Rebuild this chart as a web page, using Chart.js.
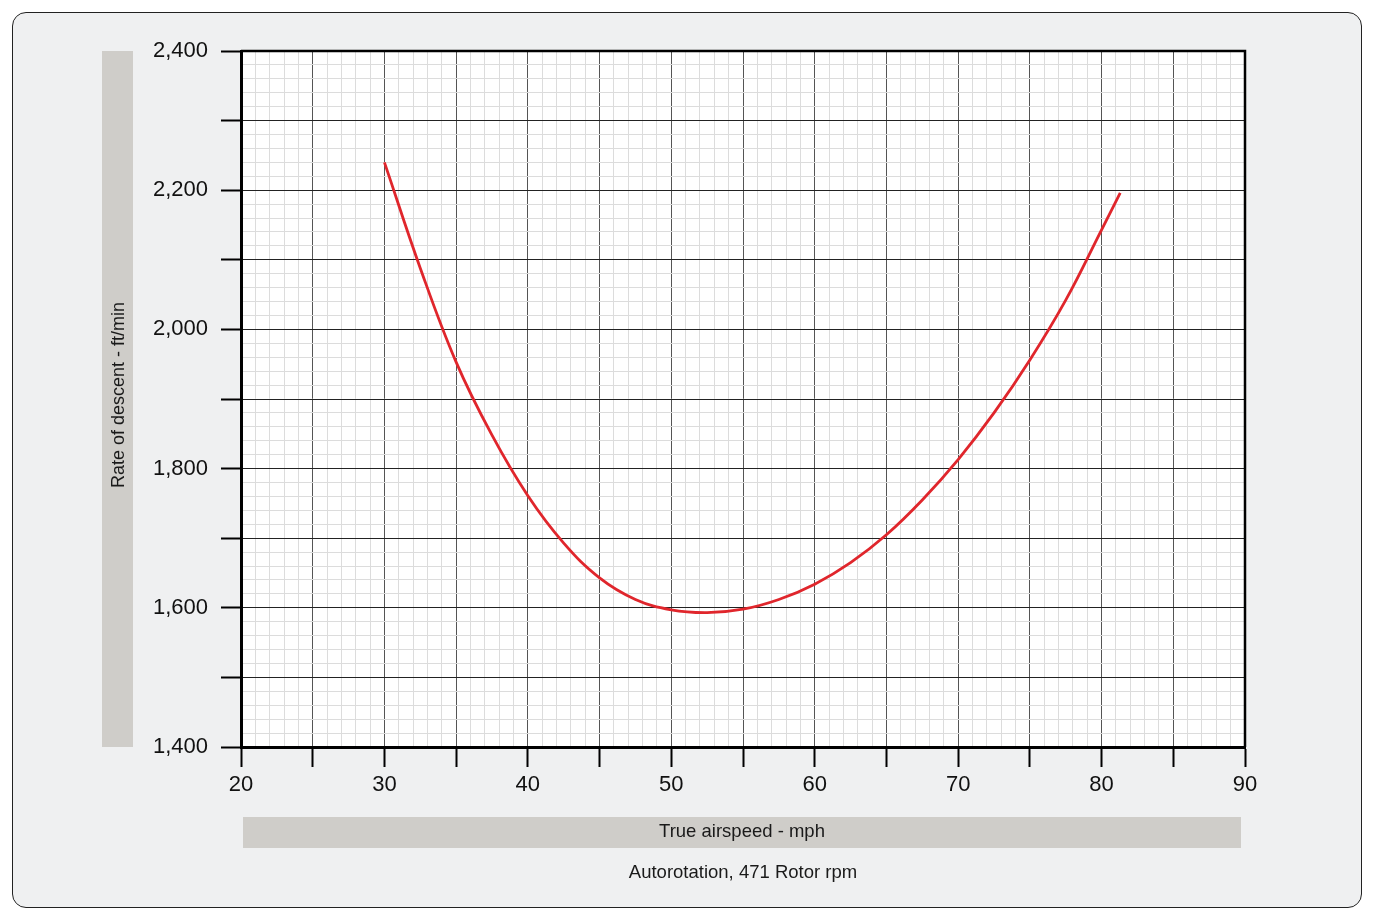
<!DOCTYPE html><html><head>
    <title>Autorotation, 471 Rotor rpm</title>
    <style>
        body { margin: 0; background: #ffffff; }
        #frame { position: absolute; left: 12px; top: 12px; width: 1348px; height: 894px;
                 border: 1.5px solid #222; border-radius: 14px; background: #eff0f1; }
        #wrap { position: absolute; left: 0; top: 0; width: 1374px; height: 921px; }
    </style>
</head>
<body>
    <div id="frame"></div>
    <div id="wrap"><canvas id="chart" width="1374" height="921"></canvas></div>
    <script src="https://cdn.jsdelivr.net/npm/chart.js"></script>
    <script>
        // values
        const airspeed = [30, 32.5, 35, 37.5, 40, 42.5, 45, 47.5, 50, 52.5, 55, 57.5, 60, 62.5, 65, 67.5, 70, 72.5, 75, 77.5, 80, 81.3];
        const descent  = [2240, 2088, 1953, 1848, 1761, 1693, 1643, 1612, 1597, 1593, 1598, 1612, 1634, 1665, 1705, 1755, 1813, 1880, 1956, 2042, 2143, 2196];

        const xTitle = 'True airspeed - mph';
        const yTitle = 'Rate of descent - ft/min';
        const caption = 'Autorotation, 471 Rotor rpm';

        const fontFamily = "Helvetica, Arial, 'Liberation Sans', sans-serif";
        Chart.defaults.font.family = fontFamily;

        const points = airspeed.map((v, i) => ({ x: v, y: descent[i] }));

        const decorPlugin = {
            id: 'decor',
            beforeDraw(chart) {
                const ctx = chart.ctx;
                const a = chart.chartArea;
                ctx.save();
                ctx.fillStyle = '#ffffff';
                ctx.fillRect(a.left, a.top, a.right - a.left, a.bottom - a.top);
                // grey title bars
                ctx.fillStyle = '#cfcdc9';
                ctx.fillRect(102, a.top, 31, a.bottom - a.top);
                ctx.fillRect(243, 817, 998, 31);
                ctx.fillStyle = '#1a1a1a';
                ctx.textAlign = 'center';
                ctx.textBaseline = 'middle';
                ctx.font = '18.5px ' + fontFamily;
                ctx.fillText(xTitle, 742, 832);
                ctx.fillText(caption, 743, 873);
                ctx.translate(119, 395);
                ctx.rotate(-Math.PI / 2);
                ctx.font = '18px ' + fontFamily;
                ctx.fillText(yTitle, 0, 0);
                ctx.restore();
            },
            afterDatasetsDraw(chart) {
                const ctx = chart.ctx;
                const a = chart.chartArea;
                ctx.save();
                ctx.strokeStyle = '#000';
                ctx.lineWidth = 2.5;
                ctx.beginPath();
                ctx.moveTo(a.left, a.top);
                ctx.lineTo(a.right, a.top);
                ctx.lineTo(a.right, a.bottom);
                ctx.stroke();
                ctx.restore();
            }
        };

        const ctx = document.getElementById('chart').getContext('2d');
        const chart = new Chart(ctx, {
            type: 'scatter',
            data: {
                datasets: [{
                    data: points,
                    showLine: true,
                    borderColor: '#e0262c',
                    borderWidth: 2.8,
                    pointRadius: 0,
                    tension: 0.4,
                    fill: false
                }]
            },
            options: {
                responsive: false,
                animation: false,
                layout: { padding: { left: 0, top: 51, right: 129, bottom: 0 } },
                plugins: { legend: { display: false }, tooltip: { enabled: false } },
                scales: {
                    x: {
                        type: 'linear', min: 20, max: 90,
                        afterFit: s => { s.height = 174; },
                        border: { color: '#000', width: 3 },
                        grid: {
                            color: c => (c.tick.value % 5 === 0 ? '#555' : '#dcdcdc'),
                            lineWidth: 1,
                            tickLength: 20,
                            tickColor: c => (c.tick.value % 5 === 0 ? '#000' : 'rgba(0,0,0,0)'),
                            tickWidth: 2
                        },
                        ticks: {
                            stepSize: 1, autoSkip: false, maxRotation: 0,
                            padding: 5, color: '#111',
                            font: { size: 22 },
                            callback: v => (v % 10 === 0 ? v : '')
                        }
                    },
                    y: {
                        type: 'linear', min: 1400, max: 2400,
                        afterFit: s => { s.width = 241; },
                        border: { color: '#000', width: 3 },
                        grid: {
                            color: c => (c.tick.value % 100 === 0 ? '#222' : '#dcdcdc'),
                            lineWidth: 1,
                            tickLength: 20,
                            tickColor: c => (c.tick.value % 100 === 0 ? '#000' : 'rgba(0,0,0,0)'),
                            tickWidth: 2
                        },
                        ticks: {
                            stepSize: 20, autoSkip: false,
                            padding: 13, color: '#111',
                            font: { size: 22 },
                            callback: v => (v % 200 === 0 ? v.toLocaleString('en-US') : '')
                        }
                    }
                }
            },
            plugins: [decorPlugin]
        });
    </script>
</body></html>
